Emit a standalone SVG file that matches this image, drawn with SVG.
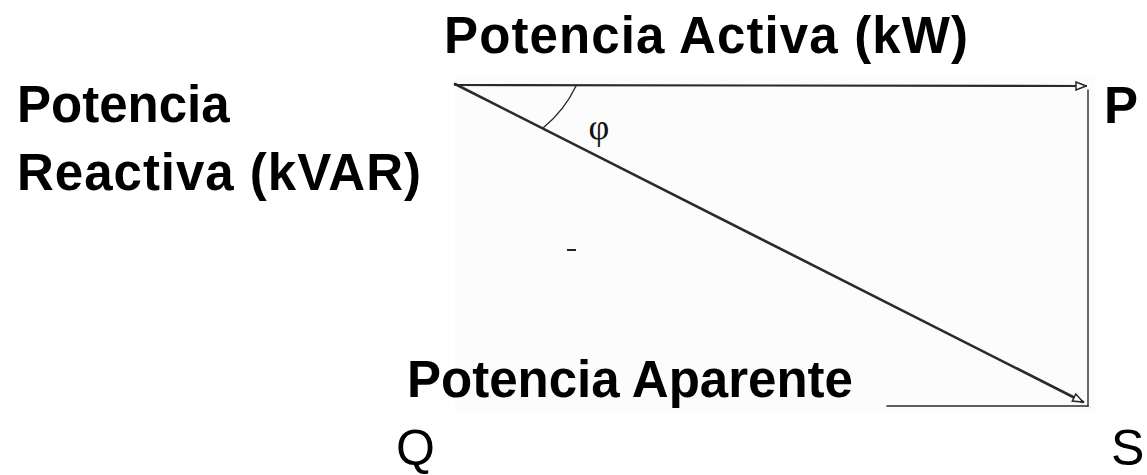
<svg xmlns="http://www.w3.org/2000/svg" width="1147" height="475" viewBox="0 0 1147 475">
<defs>
<style>
.b{font-family:"Liberation Sans",Arial,sans-serif;font-weight:bold;font-size:51px;fill:#000}
.r{font-family:"Liberation Sans",Arial,sans-serif;font-size:50px;fill:#000}
.ln{stroke:#2a2a2a;fill:none;stroke-linecap:round}
</style>
<marker id="open" viewBox="0 0 12 10" refX="11" refY="5" markerWidth="12" markerHeight="10" markerUnits="userSpaceOnUse" orient="auto">
<path d="M1,1 L11,5 L1,9 Z" fill="#fff" stroke="#2a2a2a" stroke-width="1.5"/>
</marker>
</defs>
<rect width="1147" height="475" fill="#fff"/>
<rect x="455" y="74" width="640" height="338" fill="#fcfcfc"/>
<g id="connectors">
<line class="ln" x1="455" y1="85" x2="1086" y2="86" stroke-width="2.2" marker-end="url(#open)"/>
<line class="ln" x1="1088" y1="90" x2="1088" y2="406" stroke-width="1.4"/>
<line class="ln" x1="455" y1="84" x2="1083" y2="402" stroke-width="2.6" marker-end="url(#open)"/>
<line class="ln" x1="887" y1="406" x2="1088" y2="406" stroke-width="1.6"/>
<path class="ln" d="M576,86 A121,121 0 0 1 543,128" stroke-width="1.4"/>
</g>
<g id="angle"><text x="599" y="139" text-anchor="middle" font-family="'Liberation Serif','DejaVu Serif',serif" font-size="36" fill="#111">φ</text></g>
<g id="mark"><line x1="567" y1="250" x2="576" y2="250" stroke="#222" stroke-width="2"/></g>
<g id="title"><text class="b" x="444" y="53" textLength="524" lengthAdjust="spacing">Potencia Activa (kW)</text></g>
<g id="reactiva"><text class="b" x="17" y="122">Potencia</text><text class="b" x="17" y="190" textLength="404" lengthAdjust="spacing">Reactiva (kVAR)</text></g>
<g id="aparente"><text class="b" x="407" y="397">Potencia Aparente</text></g>
<g id="P"><text class="b" x="1104" y="123">P</text></g>
<g id="Q"><text class="r" x="396" y="465">Q</text></g>
<g id="S"><text class="r" x="1111" y="465">S</text></g>
</svg>
